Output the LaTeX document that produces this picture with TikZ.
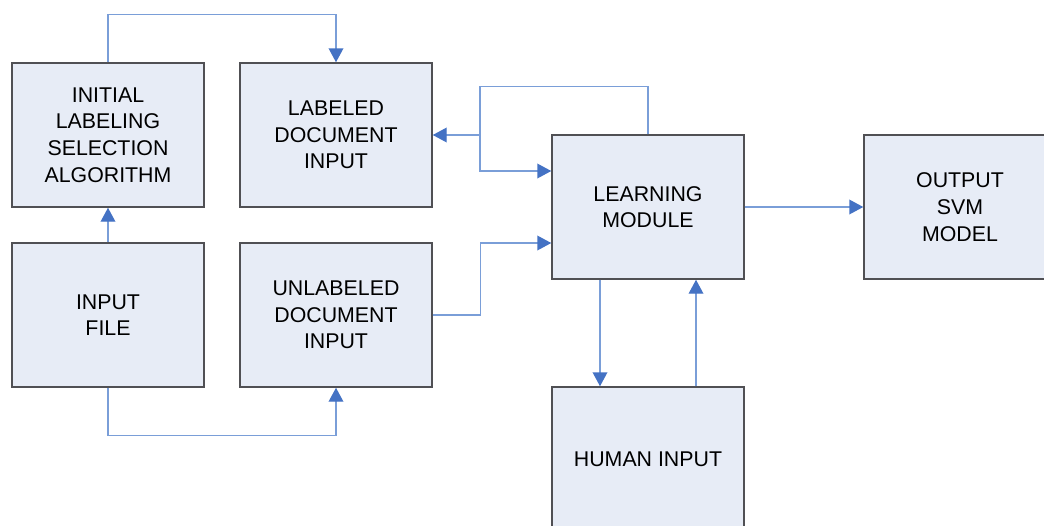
\documentclass[tikz,border=0pt]{standalone}
\usepackage{fontspec}
\setmainfont{Liberation Sans}
\usepackage{tikz}
\usetikzlibrary{arrows.meta, positioning, calc}
\definecolor{BoxFill}{RGB}{231, 236, 246}
\definecolor{BoxLine}{RGB}{80, 80, 84}
\definecolor{LinkBlue}{RGB}{122, 158, 216}
\definecolor{TipBlue}{RGB}{68, 114, 196}

\tikzset{
  block/.style={draw=BoxLine, line width=1.1pt, fill=BoxFill, minimum width=144pt,
    minimum height=108pt, inner sep=0pt, align=center,
    font=\fontsize{16}{20}\selectfont},
  link/.style={LinkBlue, line width=1.1pt},
  linkarrow/.style={link, -{Triangle[length=10.5pt, width=11pt, color=TipBlue]}}
}

\begin{document}
\begin{tikzpicture}[x=0.75pt,y=-0.75pt]
  \path[use as bounding box] (0,0) rectangle (1044,525);
  \clip (0,0) rectangle (1044,525);

  % boxes
  \node[block] (init) at (108,135) {INITIAL\\LABELING\\SELECTION\\ALGORITHM};
  \node[block] (labeled) at (336,135) {LABELED\\DOCUMENT\\INPUT};
  \node[block] (infile) at (108,315) {INPUT\\FILE};
  \node[block] (unlabeled) at (336,315) {UNLABELED\\DOCUMENT\\INPUT};
  \node[block] (learn) at (648,207) {LEARNING\\MODULE};
  \node[block] (svm) at (960,207) {OUTPUT\\SVM\\MODEL};
  \node[block] (human) at (648,459) {HUMAN INPUT};

  % left side
  \draw[linkarrow] (init.north) -- ++(0,-48) -| (labeled.north);
  \draw[linkarrow] (infile.north) -- (init.south);
  \draw[linkarrow] (infile.south) -- ++(0,48) -| (unlabeled.south);

  % feedback from the learning module
  \coordinate (fork) at (480,135);
  \draw[link] (learn.north) -- ++(0,-48) -| (fork);
  \draw[linkarrow] (fork) -- (labeled.east);
  \draw[linkarrow] (fork) |- ([yshift=27pt]learn.west);
  \draw[linkarrow] (unlabeled.east) -- ++(48,0) |- ([yshift=-27pt]learn.west);

  % output and human loop
  \draw[linkarrow] (learn.east) -- (svm.west);
  \draw[linkarrow] ([xshift=-36pt]learn.south) -- ([xshift=-36pt]human.north);
  \draw[linkarrow] ([xshift=36pt]human.north) -- ([xshift=36pt]learn.south);
\end{tikzpicture}
\end{document}
